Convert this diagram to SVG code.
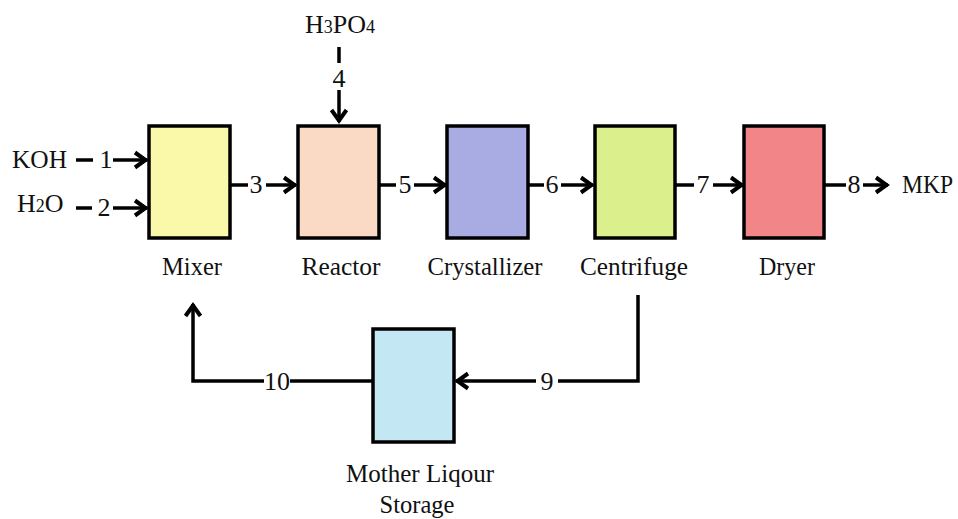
<svg xmlns="http://www.w3.org/2000/svg" width="958" height="519" viewBox="0 0 958 519" font-family="'Liberation Serif', 'Times New Roman', Times, serif">
<style>
text{font-family:'Liberation Serif','Times New Roman',Times,serif;font-size:26px;fill:#111}
.lbl{text-anchor:middle}
.num{text-anchor:middle}
.sub{font-size:18px}
.box{stroke:#000;stroke-width:3.5}
.ln{fill:none;stroke:#000;stroke-width:3.5}
.arr{marker-end:url(#ah)}
</style>
<defs>
<marker id="ah" markerUnits="userSpaceOnUse" viewBox="-16 -10 20 20" refX="0" refY="0" markerWidth="20" markerHeight="20" orient="auto">
<path d="M-12,-7.5 L-1.5,0 L-12,7.5" fill="none" stroke="#000" stroke-width="4" stroke-linejoin="miter"/>
</marker>
</defs>
<rect width="958" height="519" fill="#fff"/>

<g id="mixer">
<rect class="box" x="149" y="126" width="81" height="112" fill="#FAF8A9"/>
<text class="lbl" x="192" y="275" textLength="60" lengthAdjust="spacingAndGlyphs">Mixer</text>
</g>
<g id="reactor">
<rect class="box" x="298" y="126" width="81" height="112" fill="#FBDAC5"/>
<text class="lbl" x="341" y="275" textLength="79" lengthAdjust="spacingAndGlyphs">Reactor</text>
</g>
<g id="crystallizer">
<rect class="box" x="447" y="126" width="81" height="112" fill="#A8ACE3"/>
<text class="lbl" x="485" y="275" textLength="115" lengthAdjust="spacingAndGlyphs">Crystallizer</text>
</g>
<g id="centrifuge">
<rect class="box" x="595" y="126" width="80" height="112" fill="#DBF08C"/>
<text class="lbl" x="634" y="275" textLength="108" lengthAdjust="spacingAndGlyphs">Centrifuge</text>
</g>
<g id="dryer">
<rect class="box" x="744" y="126" width="80" height="112" fill="#F28588"/>
<text class="lbl" x="787" y="275" textLength="56" lengthAdjust="spacingAndGlyphs">Dryer</text>
</g>
<g id="storage">
<rect class="box" x="373" y="329" width="81" height="113" fill="#C4E8F3"/>
<text class="lbl" x="420" y="482" textLength="148" lengthAdjust="spacingAndGlyphs">Mother Liqour</text>
<text class="lbl" x="417" y="513" textLength="75" lengthAdjust="spacingAndGlyphs">Storage</text>
</g>

<g id="streams">
<text x="12" y="168" textLength="55" lengthAdjust="spacingAndGlyphs">KOH</text>
<text x="17" y="212">H<tspan class="sub">2</tspan>O</text>
<text x="305" y="33">H<tspan class="sub">3</tspan>PO<tspan class="sub">4</tspan></text>
<text x="902" y="193" textLength="51" lengthAdjust="spacingAndGlyphs">MKP</text>
</g>

<g id="connectors">
<path class="ln" d="M76,160 H93"/>
<path class="ln arr" d="M113,160 H147"/>
<text class="num" x="106" y="168">1</text>
<path class="ln" d="M76,208 H92"/>
<path class="ln arr" d="M113,208 H147"/>
<text class="num" x="104" y="216">2</text>
<path class="ln" d="M230,185 H248"/>
<path class="ln arr" d="M266,185 H296"/>
<text class="num" x="256" y="193">3</text>
<path class="ln" d="M339,47 V63"/>
<path class="ln arr" d="M339,90 V122"/>
<text class="num" x="339" y="87">4</text>
<path class="ln" d="M379,185 H396"/>
<path class="ln arr" d="M414,185 H446"/>
<text class="num" x="405" y="193">5</text>
<path class="ln" d="M528,185 H544"/>
<path class="ln arr" d="M561,185 H593"/>
<text class="num" x="552" y="193">6</text>
<path class="ln" d="M675,185 H694"/>
<path class="ln arr" d="M713,185 H743"/>
<text class="num" x="703" y="193">7</text>
<path class="ln" d="M824,185 H846"/>
<path class="ln arr" d="M863,185 H888"/>
<text class="num" x="854" y="193">8</text>
<path class="ln" d="M638,295 V381 H558"/>
<path class="ln arr" d="M536,381 H456"/>
<text class="num" x="547" y="390">9</text>
<path class="ln" d="M373,381 H290"/>
<path class="ln arr" d="M264,381 H193 V304"/>
<text class="num" x="277" y="390">10</text>
</g>
</svg>
